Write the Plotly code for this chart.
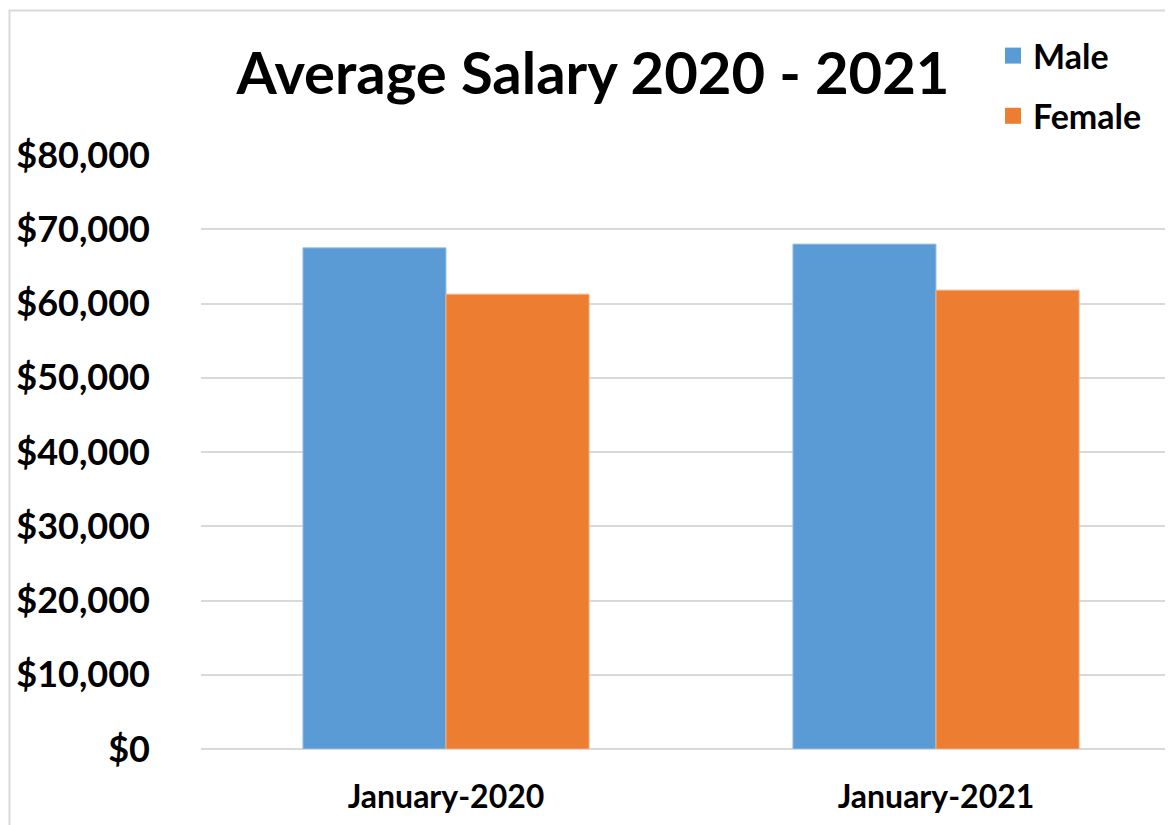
import plotly.graph_objects as go

categories = ["January-2020", "January-2021"]
male = [67500, 68000]
female = [61250, 61800]
tick_vals = [0, 10000, 20000, 30000, 40000, 50000, 60000, 70000, 80000]
tick_text = ["$0", "$10,000", "$20,000", "$30,000", "$40,000", "$50,000", "$60,000", "$70,000", "$80,000"]

FONT = "Lato"
OFF = 8  # page offset of the figure inside the browser window
W, H = 1173, 825
L, R, T, B = 201 - OFF, 0, 155 - OFF, 825 - 749 + OFF
pw = W - L - R
ph = H - T - B


def px_x(p):
    return (p - OFF - L) / pw


def px_y(p):
    return (H - B - (p - OFF)) / ph


fig = go.Figure()
fig.add_trace(go.Bar(name="Male", x=categories, y=male, showlegend=False,
                     marker=dict(color="#5B9BD5", line=dict(color="#9DC3E6", width=1))))
fig.add_trace(go.Bar(name="Female", x=categories, y=female, showlegend=False,
                     marker=dict(color="#ED7D31", line=dict(color="#F4B183", width=1))))
# legend entries (square swatches)
fig.add_trace(go.Scatter(name="Male", x=[None], y=[None], mode="markers", legendgroup="m",
                         marker=dict(symbol="square", size=20, color="#5B9BD5")))
fig.add_trace(go.Scatter(name="Female", x=[None], y=[None], mode="markers", legendgroup="f",
                         marker=dict(symbol="square", size=20, color="#ED7D31")))

bold = dict(family=FONT, color="black", weight="bold")

fig.update_layout(
    width=W, height=H,
    margin=dict(l=L, r=R, t=T, b=B, autoexpand=False),
    paper_bgcolor="white", plot_bgcolor="white",
    barmode="group", bargap=0.416, bargroupgap=0,
    font=bold,
    title=dict(text="Average Salary 2020 - 2021", x=(593 - OFF) / W, xanchor="center",
               y=1 - (74 - OFF) / H, yanchor="middle", font=dict(size=58, **bold)),
    legend=dict(x=px_x(993), y=px_y(27), xanchor="left", yanchor="top",
                font=dict(size=34, **bold),
                bgcolor="rgba(0,0,0,0)", tracegroupgap=13),
    xaxis=dict(range=[-0.5, -0.5 + pw / 490], showgrid=False, showline=False, zeroline=False,
               tickfont=dict(size=32, **bold), ticklabelstandoff=26,
               fixedrange=True),
    yaxis=dict(range=[0, 80000], tickvals=tick_vals, ticktext=tick_text,
               showgrid=True, gridcolor="#D9D9D9", gridwidth=2,
               zeroline=True, zerolinecolor="#D9D9D9", zerolinewidth=2,
               showline=False, ticklabelstandoff=50,
               tickfont=dict(size=36, **bold)),
    shapes=[dict(type="rect", xref="paper", yref="paper",
                 x0=px_x(9.5), x1=px_x(1300), y0=px_y(900), y1=px_y(10.5),
                 line=dict(color="#D9D9D9", width=2), layer="below")],
)

fig.write_html("out.html")
